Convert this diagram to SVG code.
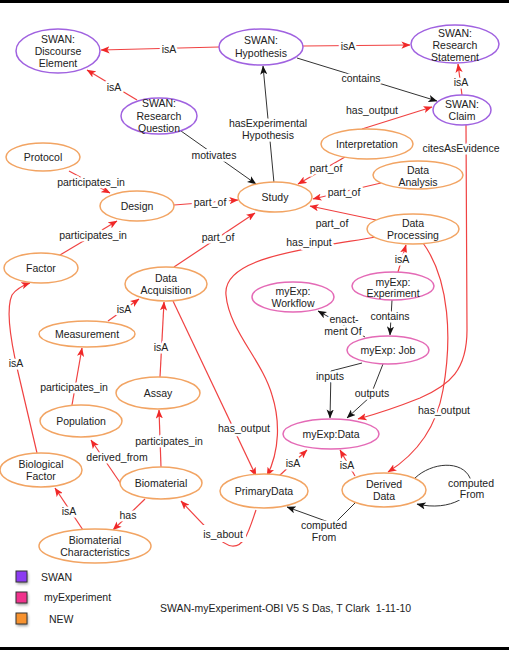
<svg xmlns="http://www.w3.org/2000/svg" width="509" height="650" viewBox="0 0 509 650">
<style>
text{font-family:"Liberation Sans",Arial,sans-serif;font-size:10.5px;fill:#222;text-anchor:middle}
.swan{fill:#fff;stroke:#a062e0;stroke-width:1.5}
.myexp{fill:#fff;stroke:#e46ab6;stroke-width:1.5}
.new{fill:#fff;stroke:#f2a463;stroke-width:1.5}
.r{fill:none;stroke:#f04242;stroke-width:1.2;marker-end:url(#ar)}
.k{fill:none;stroke:#333;stroke-width:1;marker-end:url(#ak)}
.lb{stroke:#fff;stroke-width:5;stroke-linejoin:round;paint-order:stroke}
.leg{text-anchor:start}
.sq{stroke:#333;stroke-width:1}
</style>
<defs>
<marker id="ar" viewBox="0 0 10 8" refX="9.5" refY="4" markerWidth="9" markerHeight="7.5" orient="auto" markerUnits="userSpaceOnUse"><path d="M0,0 L10,4 L0,8 L2.5,4 z" fill="#f02828"/></marker>
<marker id="ak" viewBox="0 0 10 8" refX="9.5" refY="4" markerWidth="9" markerHeight="7.5" orient="auto" markerUnits="userSpaceOnUse"><path d="M0,0 L10,4 L0,8 L2.5,4 z" fill="#111"/></marker>
<filter id="sh" x="-50%" y="-50%" width="200%" height="200%"><feGaussianBlur stdDeviation="1.5"/></filter>
</defs>
<rect x="0" y="0" width="509" height="650" fill="#fff"/>
<rect x="0" y="0" width="509" height="3" fill="#000"/>
<rect x="0" y="647" width="509" height="3" fill="#000"/>

<g id="connectors">
<path class="r" d="M219,47 L101,50"/>
<path class="r" d="M303,46 L410,45"/>
<path class="r" d="M137,100 L87,70"/>
<path class="k" d="M297,58 L437,101"/>
<path class="r" d="M462,95 L458,64"/>
<path class="r" d="M362,129 L432,107"/>
<path class="k" d="M274,183 L263,66"/>
<path class="k" d="M181,131 L256,184"/>
<path class="r" d="M69,171 L110,193"/>
<path class="r" d="M60,255 L117,221"/>
<path class="r" d="M174,205 L238,200"/>
<path class="r" d="M174,267 L255,213"/>
<path class="r" d="M345,157 L298,184"/>
<path class="r" d="M381,183 L313,199"/>
<path class="r" d="M376,220 L310,206"/>
<path class="r" d="M376,237 C300,250 222,258 226,295 C229,330 262,360 272,395 C280,420 280,450 267,476"/>
<path class="r" d="M173,301 L256,476"/>
<path class="r" d="M423,243 C450,280 452,340 443,390 C436,430 415,455 388,472"/>
<path class="r" d="M466,125 L467,330 C467,370 450,385 420,398 C400,406 380,413 358,419"/>
<path class="r" d="M398,272 L406,245"/>
<path class="k" d="M392,300 L390,335"/>
<path class="k" d="M365,337 L318,311"/>
<path class="k" d="M362,363 L331,371 L330,418"/>
<path class="k" d="M383,364 L370,397 L347,418"/>
<path class="r" d="M279,476 L307,450"/>
<path class="r" d="M355,476 L340,450"/>
<path class="k" d="M356,502 L334,524 L287,507"/>
<path class="k" d="M415,478 C432,462 462,460 470,478 C478,495 450,512 417,504"/>
<path class="r" d="M161,467 L159,410"/>
<path class="r" d="M160,377 L164,302"/>
<path class="r" d="M108,321 L139,299"/>
<path class="r" d="M72,405 L82,348"/>
<path class="r" d="M121,484 L91,440"/>
<path class="r" d="M145,499 L113,530"/>
<path class="r" d="M83,530 L55,488"/>
<path class="r" d="M37,453 L18,372 C10,338 6,308 12,295 C17,288 24,285 30,283"/>
<path class="r" d="M256,510 C249,530 245,547 232,546 C222,545 210,532 181,501"/>

<g class="lbls">
<text class="lb" x="169" y="53">isA</text>
<text class="lb" x="348" y="50">isA</text>
<text class="lb" x="114" y="91">isA</text>
<text class="lb" x="361" y="82">contains</text>
<text class="lb" x="461" y="86">isA</text>
<text class="lb" x="372" y="114">has_output</text>
<text class="lb" x="268" y="127">hasExperimental</text>
<text class="lb" x="268" y="139">Hypothesis</text>
<text class="lb" x="214" y="159">motivates</text>
<text class="lb" x="91" y="186">participates_in</text>
<text class="lb" x="93" y="239">participates_in</text>
<text class="lb" x="210" y="206">part_of</text>
<text class="lb" x="218" y="241">part_of</text>
<text class="lb" x="326" y="172">part_of</text>
<text class="lb" x="344" y="196">part_of</text>
<text class="lb" x="332" y="227">part_of</text>
<text class="lb" x="309" y="246">has_input</text>
<text class="lb" x="244" y="432">has_output</text>
<text class="lb" x="444" y="414">has_output</text>
<text class="lb" x="461" y="152">citesAsEvidence</text>
<text class="lb" x="402" y="263">isA</text>
<text class="lb" x="390" y="320">contains</text>
<text class="lb" x="344" y="323">enact-</text>
<text class="lb" x="343" y="335">ment Of</text>
<text class="lb" x="330" y="380">inputs</text>
<text class="lb" x="372" y="397">outputs</text>
<text class="lb" x="293" y="467">isA</text>
<text class="lb" x="347" y="469">isA</text>
<text class="lb" x="324" y="529">computed</text>
<text class="lb" x="324" y="541">From</text>
<text class="lb" x="471" y="487">computed</text>
<text class="lb" x="472" y="498">From</text>
<text class="lb" x="169" y="445">participates_in</text>
<text class="lb" x="161" y="351">isA</text>
<text class="lb" x="124" y="313">isA</text>
<text class="lb" x="74" y="391">participates_in</text>
<text class="lb" x="117" y="461">derived_from</text>
<text class="lb" x="128" y="519">has</text>
<text class="lb" x="69" y="515">isA</text>
<text class="lb" x="16" y="367">isA</text>
<rect x="200" y="525" width="46" height="17" fill="#fff"/>
<text class="lb" x="223" y="538">is_about</text>
</g>
</g>

<g id="n-discourse"><ellipse class="swan" cx="58" cy="51" rx="42" ry="22"/><text x="58" y="43">SWAN:</text><text x="58" y="55">Discourse</text><text x="58" y="67">Element</text></g>
<g id="n-hypothesis"><ellipse class="swan" cx="261" cy="47" rx="42" ry="18"/><text x="261" y="44">SWAN:</text><text x="261" y="57">Hypothesis</text></g>
<g id="n-statement"><ellipse class="swan" cx="455" cy="44" rx="44" ry="19"/><text x="455" y="37">SWAN:</text><text x="455" y="49">Research</text><text x="455" y="61">Statement</text></g>
<g id="n-question"><ellipse class="swan" cx="159" cy="116" rx="38" ry="18"/><text x="159" y="107">SWAN:</text><text x="159" y="120">Research</text><text x="159" y="132">Question</text></g>
<g id="n-claim"><ellipse class="swan" cx="462" cy="110" rx="29" ry="15"/><text x="462" y="108">SWAN:</text><text x="462" y="120">Claim</text></g>
<g id="n-interpretation"><ellipse class="new" cx="367" cy="144" rx="46" ry="15"/><text x="367" y="148">Interpretation</text></g>
<g id="n-protocol"><ellipse class="new" cx="43" cy="157" rx="37" ry="14"/><text x="43" y="161">Protocol</text></g>
<g id="n-design"><ellipse class="new" cx="137" cy="206" rx="37" ry="15"/><text x="137" y="210">Design</text></g>
<g id="n-study"><ellipse class="new" cx="275" cy="197" rx="37" ry="15"/><text x="275" y="201">Study</text></g>
<g id="n-analysis"><ellipse class="new" cx="418" cy="175" rx="45" ry="14"/><text x="418" y="174">Data</text><text x="418" y="186">Analysis</text></g>
<g id="n-processing"><ellipse class="new" cx="413" cy="229" rx="46" ry="15"/><text x="413" y="227">Data</text><text x="413" y="239">Processing</text></g>
<g id="n-factor"><ellipse class="new" cx="41" cy="268" rx="37" ry="15"/><text x="41" y="272">Factor</text></g>
<g id="n-acquisition"><ellipse class="new" cx="166" cy="284" rx="41" ry="17"/><text x="166" y="282">Data</text><text x="166" y="294">Acquisition</text></g>
<g id="n-experiment"><ellipse class="myexp" cx="393" cy="286" rx="41" ry="14"/><text x="393" y="286">myExp:</text><text x="393" y="297">Experiment</text></g>
<g id="n-workflow"><ellipse class="myexp" cx="293" cy="297" rx="41" ry="15"/><text x="293" y="295">myExp:</text><text x="293" y="307">Workflow</text></g>
<g id="n-measurement"><ellipse class="new" cx="87" cy="334" rx="48" ry="13"/><text x="87" y="338">Measurement</text></g>
<g id="n-job"><ellipse class="myexp" cx="388" cy="350" rx="41" ry="14"/><text x="388" y="354">myExp: Job</text></g>
<g id="n-assay"><ellipse class="new" cx="158" cy="393" rx="42" ry="16"/><text x="158" y="397">Assay</text></g>
<g id="n-population"><ellipse class="new" cx="81" cy="421" rx="41" ry="16"/><text x="81" y="425">Population</text></g>
<g id="n-mydata"><ellipse class="myexp" cx="331" cy="434" rx="48" ry="15"/><text x="331" y="438">myExp:Data</text></g>
<g id="n-biofactor"><ellipse class="new" cx="41" cy="470" rx="41" ry="17"/><text x="41" y="468">Biological</text><text x="41" y="480">Factor</text></g>
<g id="n-biomaterial"><ellipse class="new" cx="161" cy="483" rx="41" ry="16"/><text x="161" y="487">Biomaterial</text></g>
<g id="n-primary"><ellipse class="new" cx="264" cy="491" rx="44" ry="17"/><text x="264" y="495">PrimaryData</text></g>
<g id="n-derived"><ellipse class="new" cx="384" cy="490" rx="42" ry="17"/><text x="384" y="488">Derived</text><text x="384" y="500">Data</text></g>
<g id="n-biochar"><ellipse class="new" cx="95" cy="546" rx="56" ry="17"/><text x="95" y="544">Biomaterial</text><text x="95" y="556">Characteristics</text></g>

<g id="legend">
<rect x="17" y="573" width="11" height="11" fill="#555" opacity="0.6" filter="url(#sh)"/>
<rect class="sq" x="16" y="571" width="11" height="11" fill="#8c3cf2"/>
<text class="leg" x="41" y="581">SWAN</text>
<rect x="17" y="594" width="11" height="11" fill="#555" opacity="0.6" filter="url(#sh)"/>
<rect class="sq" x="16" y="592" width="11" height="11" fill="#f0338c"/>
<text class="leg" x="44" y="601">myExperiment</text>
<rect x="17" y="615" width="11" height="11" fill="#555" opacity="0.6" filter="url(#sh)"/>
<rect class="sq" x="16" y="613" width="11" height="11" fill="#f7922f"/>
<text class="leg" x="49" y="623">NEW</text>
<text class="leg" x="160" y="612">SWAN-myExperiment-OBI V5 S Das, T Clark&#160; 1-11-10</text>
</g>
</svg>
